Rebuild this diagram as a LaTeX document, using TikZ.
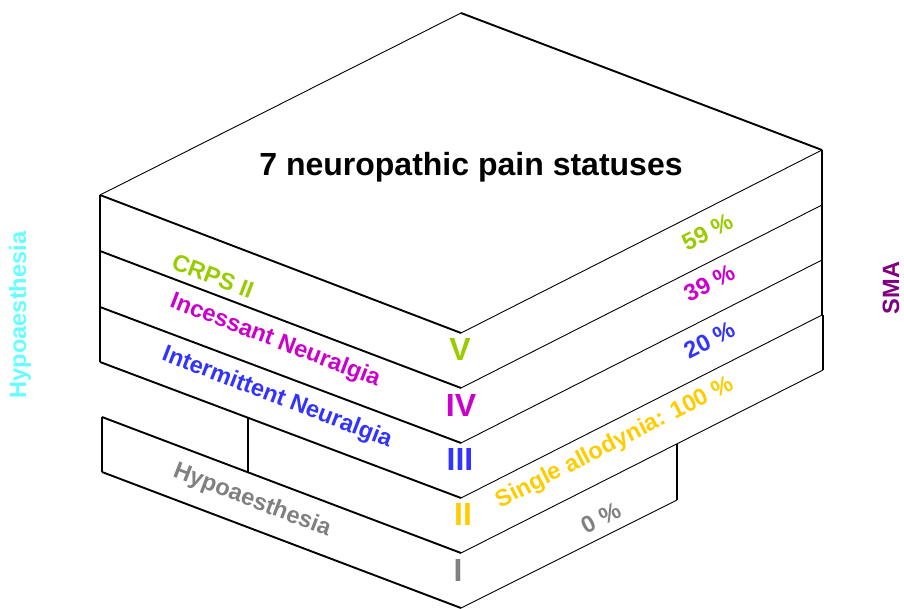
\documentclass[tikz,border=0pt]{standalone}
\usepackage{fontspec}
\setmainfont{Liberation Sans}
\usetikzlibrary{calc}

\definecolor{crpsgreen}{HTML}{99CC00}
\definecolor{incmag}{HTML}{CC00CC}
\definecolor{intblue}{HTML}{3333FF}
\definecolor{allyellow}{HTML}{FFCC00}
\definecolor{hypogray}{HTML}{808080}
\definecolor{hypocyan}{HTML}{66FFFF}
\definecolor{smapurple}{HTML}{800080}

\tikzset{
  frontedge/.style={line width=1.9pt},
  backedge/.style={line width=.9pt},
  sideedge/.style={line width=1.3pt},
  facelabel/.style={font=\bfseries\fontsize{23.6}{26}\selectfont,inner sep=0pt},
  levellabel/.style={font=\bfseries\fontsize{32}{36}\selectfont,inner sep=0pt}
}

\begin{document}
\begin{tikzpicture}[x=1pt,y=-1pt,line join=round]
 \useasboundingbox (0,0) rectangle (904,609);
 % corners of the stack
 \coordinate (top) at (461,13);
 \coordinate (f0) at (461,333); \coordinate (f1) at (461,388);
 \coordinate (f2) at (461,443); \coordinate (f3) at (461,498);
 \coordinate (f4) at (461,553); \coordinate (f5) at (461,608);
 \coordinate (l0) at (100,195); \coordinate (l1) at (100,251);
 \coordinate (l2) at (100,307); \coordinate (l3) at (100,362);
 \coordinate (l4) at (102,417); \coordinate (l5) at (102,472);
 \coordinate (r0) at (822,150); \coordinate (r1) at (822,205);
 \coordinate (r2) at (822,260); \coordinate (r3) at (822,315);
 \coordinate (r4) at (823,370);
 \coordinate (s4) at (677,444); \coordinate (s5) at (677,500);
 \coordinate (m3) at (248,418); \coordinate (m4) at (248,472);

 \draw[backedge] (l0) -- (top);
 \draw[frontedge] (top) -- (r0);
 \draw[frontedge] (l0) -- (f0);
 \draw[frontedge] (l1) -- (f1);
 \draw[frontedge] (l2) -- (f2);
 \draw[frontedge] (l3) -- (f3);
 \draw[frontedge] (l4) -- (f4);
 \draw[frontedge] (l5) -- (f5);
 \draw[backedge] (f0) -- (r0);
 \draw[backedge] (f1) -- (r1);
 \draw[backedge] (f2) -- (r2);
 \draw[backedge] (f3) -- (r3);
 \draw[backedge] (f4) -- (r4);
 \draw[backedge] (f5) -- (s5);
 \draw[sideedge] (l0) -- (l3);
 \draw[sideedge] (l4) -- (l5);
 \draw[sideedge] (m3) -- (m4);
 \draw[sideedge] (r0) -- (r3);
 \draw[sideedge] (r3 -| r4) -- (r4);
 \draw[sideedge] (s4) -- (s5);

 \node[levellabel,anchor=base] (title) at (471,176) {7 neuropathic pain statuses};

 \node[levellabel,text=crpsgreen] (lv) at (460,349) {V};
 \node[levellabel,text=incmag] (liv) at (461,405) {IV};
 \node[levellabel,text=intblue] (liii) at (460,459) {III};
 \node[levellabel,text=allyellow] (lii) at (463,514) {II};
 \node[levellabel,text=hypogray] (li) at (458,570) {I};

 \node[facelabel,text=crpsgreen,rotate=-21] (crps) at (213,276) {CRPS II};
 \node[facelabel,text=incmag,rotate=-21] (incess) at (275,341) {Incessant Neuralgia};
 \node[facelabel,text=intblue,rotate=-21] (interm) at (277,398) {Intermittent Neuralgia};
 \node[facelabel,text=hypogray,rotate=-21] (hypo) at (252,501) {Hypoaesthesia};

 \node[facelabel,text=crpsgreen,rotate=27] (pv) at (708,232) {59 \%};
 \node[facelabel,text=incmag,rotate=27] (piv) at (710,283) {39 \%};
 \node[facelabel,text=intblue,rotate=27] (piii) at (710,340) {20 \%};
 \node[facelabel,text=allyellow,rotate=27] (pii) at (615,443) {Single allodynia: 100 \%};
 \node[facelabel,text=hypogray,rotate=27] (pi) at (601,518) {0 \%};

 \node[facelabel,text=hypocyan,rotate=90] (sidehypo) at (20,315) {Hypoaesthesia};
 \node[facelabel,text=smapurple,rotate=90] (sidesma) at (891,288) {SMA};
\end{tikzpicture}
\end{document}
